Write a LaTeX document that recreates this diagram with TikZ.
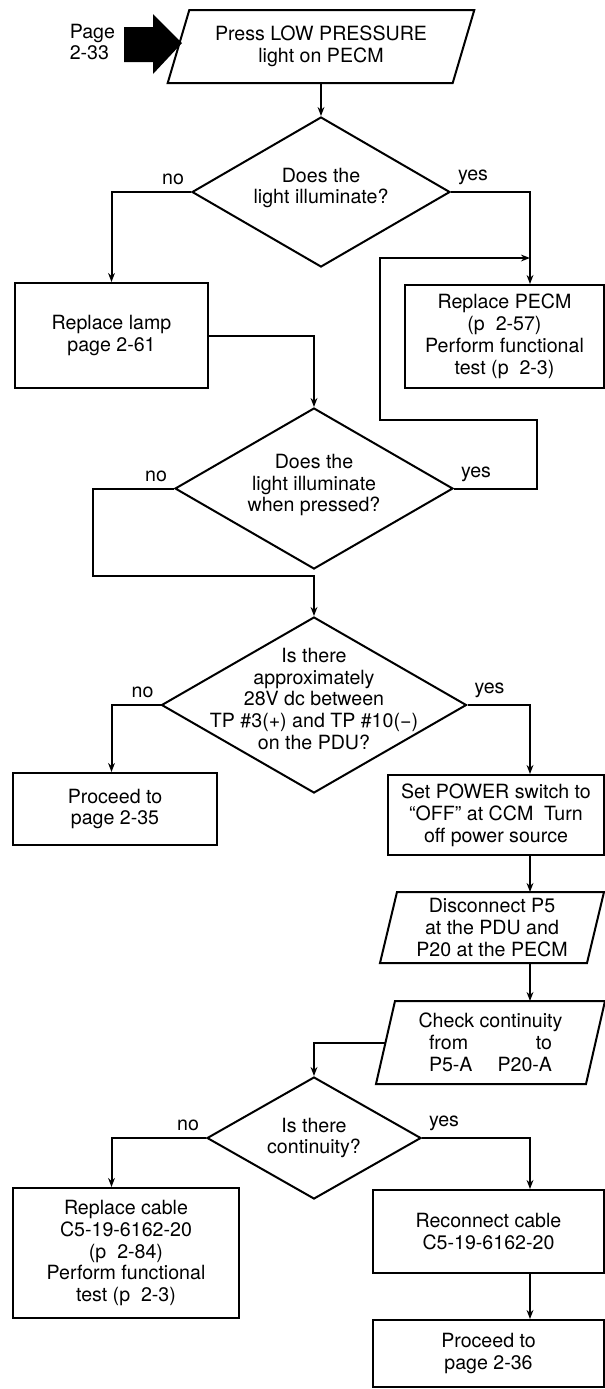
\documentclass[tikz,border=0pt]{standalone}
\usepackage{fontspec}
\setmainfont{TeX Gyre Heros}
\usetikzlibrary{shapes.geometric,arrows.meta}

\begin{document}
\begin{tikzpicture}[
    x=0.5pt, y=-0.5pt,
    font=\fontsize{9.8}{10.9}\selectfont,
    line width=1pt,
    arr/.style={-{Stealth[length=4.5pt,width=3.4pt]}},
    box/.style={draw, rectangle, align=center, inner sep=0pt},
    io/.style={rectangle, align=center, inner sep=0pt},
    decision/.style={diamond, draw, inner sep=0pt},
    answer/.style={inner sep=3pt}
]
    \useasboundingbox (0,0) rectangle (605,1389);

    % Coordinates
    \coordinate (colL) at (111.5,0);
    \coordinate (colR) at (530,0);
    \coordinate (merge) at (93,576);
    \coordinate (back1) at (537,420);
    \coordinate (back2) at (380,258);

    % Entry
    \fill (124,27) -- (153,27) -- (153,14) -- (182,43) -- (153,74) -- (153,62) -- (124,62) -- cycle;
    \node[align=left, anchor=east, inner sep=0pt] (pagein) at (116,42) {Page\\2-33};

    % Steps
    \node[io, minimum width=141.5pt, minimum height=35.5pt] (start) at (321,46.5) {Press LOW PRESSURE\\light on PECM};
    \node[decision, minimum width=129pt, minimum height=75pt] (d1) at (321,192) {};
    \node[align=center] (q1) at ([yshift=2pt]d1.center) {Does the\\light illuminate?};

    \node[box, minimum width=96.5pt, minimum height=52.5pt] (lamp) at (111.5,335.5) {Replace lamp\\page 2-61};
    \node[box, minimum width=99.5pt, minimum height=51.5pt] (pecm) at (504.5,336.5) {Replace PECM\\(p\ \ 2-57)\\Perform functional\\test (p\ \ 2-3)};

    \node[decision, minimum width=139pt, minimum height=80.5pt] (d2) at (314,488.5) {};
    \node[align=center] (q2) at ([yshift=1.75pt]d2.center) {Does the\\light illuminate\\when pressed?};

    \node[decision, minimum width=152.5pt, minimum height=88pt] (d3) at (314,705) {};
    \node[align=center] (q3) at ([yshift=3pt]d3.center) {Is there\\approximately\\28V dc between\\TP \#3(+) and TP \#10(−)\\on the PDU?};

    \node[box, minimum width=102pt, minimum height=36pt] (proc35) at (115,809) {Proceed to\\page 2-35};
    \node[box, minimum width=108pt, minimum height=40pt] (power) at (496,815) {Set POWER switch to\\“OFF” at CCM\ \ Turn\\off power source};

    \node[io, minimum width=102.5pt, minimum height=34.5pt] (disc) at (492,927.5) {Disconnect P5\\at the PDU and\\P20 at the PECM};
    \node[io, minimum width=104pt, minimum height=40.5pt] (check) at (490.5,1042.5) {Check continuity\\\makebox[61.5pt]{from\hfill to}\\\makebox[61.5pt]{P5-A\hfill P20-A}};

    \node[decision, minimum width=107pt, minimum height=61pt] (d4) at (314,1138) {};
    \node[align=center] (q4) at (d4.center) {Is there\\continuity?};

    \node[box, minimum width=113pt, minimum height=65pt] (cable) at (126,1253) {Replace cable\\C5-19-6162-20\\(p\ \ 2-84)\\Perform functional\\test (p\ \ 2-3)};
    \node[box, minimum width=115.5pt, minimum height=41.5pt] (recon) at (488.5,1231.5) {Reconnect cable\\C5-19-6162-20};
    \node[box, minimum width=115.5pt, minimum height=33.5pt] (proc36) at (488.5,1353.5) {Proceed to\\page 2-36};

    % Slanted outlines
    \draw ([xshift=5.4pt]start.north west) -- ([xshift=5.4pt]start.north east) -- ([xshift=-5.4pt]start.south east) -- ([xshift=-5.4pt]start.south west) -- cycle;
    \draw ([xshift=4.25pt]disc.north west) -- ([xshift=4.25pt]disc.north east) -- ([xshift=-4.25pt]disc.south east) -- ([xshift=-4.25pt]disc.south west) -- cycle;
    \draw ([xshift=4.75pt]check.north west) -- ([xshift=4.75pt]check.north east) -- ([xshift=-4.75pt]check.south east) -- ([xshift=-4.75pt]check.south west) -- cycle;

    % Connectors
    \draw[arr] (start.south) -- (d1.north);
    \draw[arr] (d1.west) node[answer, above left] (no1) {no} -| (lamp.north -| colL);
    \draw[arr] (d1.east) node[answer, above right] (yes1) {yes} -| (pecm.north -| colR);
    \draw[arr] (lamp.east) -| (d2.north);
    \draw[arr] (d2.east) node[answer, above right] (yes2) {yes} -| (back1) -| (back2) -- (back2 -| colR);
    \draw[arr] (d2.west) node[answer, above left] (no2) {no} -| (merge) -| (d3.north);
    \draw[arr] (d3.west) node[answer, above left] (no3) {no} -| (proc35.north -| colL);
    \draw[arr] (d3.east) node[answer, above right] (yes3) {yes} -| (power.north -| colR);
    \draw[arr] (power.south -| colR) -- (disc.north -| colR);
    \draw[arr] (disc.south -| colR) -- (check.north -| colR);
    \draw[arr] (check.west) -| (d4.north);
    \draw[arr] (d4.west) node[answer, above left] (no4) {no} -| (cable.north -| colL);
    \draw[arr] (d4.east) node[answer, above right] (yes4) {yes} -| (recon.north -| colR);
    \draw[arr] (recon.south -| colR) -- (proc36.north -| colR);

\end{tikzpicture}
\end{document}
